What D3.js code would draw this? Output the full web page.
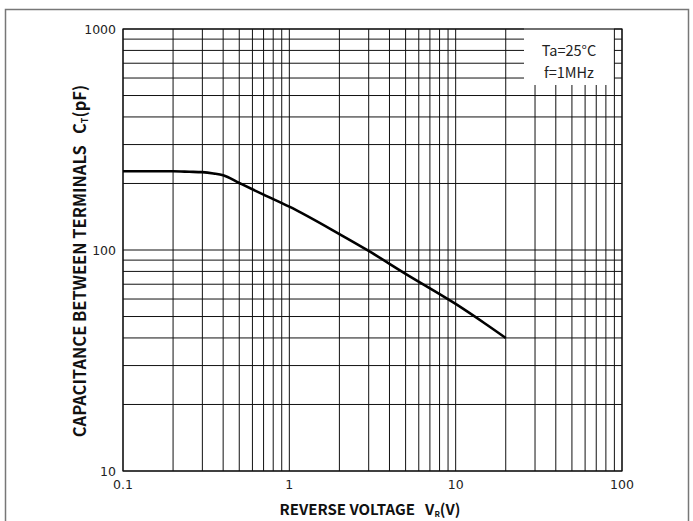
<!DOCTYPE html>
<html><head><meta charset="utf-8">
<script src="https://cdn.jsdelivr.net/npm/d3@7"></script>
<style>body{margin:0;background:#fff}svg{display:block}</style>
</head><body>
<script>
const voltage = [0.1, 0.15, 0.2, 0.25, 0.3, 0.35, 0.4, 0.5, 0.7, 1, 2, 3, 5, 10, 15, 20];
const capacitance = [227, 227, 227, 226, 225, 222, 218, 201, 178, 157, 118, 99, 78, 57, 46.5, 40];
const xTickLabels = [0.1, 1, 10, 100];
const yTickLabels = [10, 100, 1000];
const legendLines = ["Ta=25°C", "f=1MHz"];

const W = 693, H = 521;
const m = {l:123, t:29, r:622, b:471};
const svg = d3.select("body").append("svg").attr("width", W).attr("height", H);

// outer frame
svg.append("path").attr("d", `M5.5,${H} V9.5 H688.5 V${H}`)
  .attr("fill","none").attr("stroke","#777").attr("stroke-width",1.5);

const x = d3.scaleLog().domain([0.1, 100]).range([m.l, m.r]);
const y = d3.scaleLog().domain([10, 1000]).range([m.b, m.t]);

const xGrid = [], yGrid = [];
[0.1, 1, 10].forEach(d => { for (let k = 1; k <= 9; k++) xGrid.push(d * k); });
xGrid.push(100);
[10, 100].forEach(d => { for (let k = 1; k <= 9; k++) yGrid.push(d * k); });
yGrid.push(1000);

// legend box bounds
const lb = {x0:524, x1:614, y0:m.t, y1:85};

const g = svg.append("g").attr("stroke","#111").attr("stroke-width",1);
xGrid.forEach(v => {
  const px = x(v);
  const inBox = px > lb.x0 && px < lb.x1;
  g.append("line").attr("x1",px).attr("x2",px).attr("y1", inBox ? lb.y1 : m.t).attr("y2", m.b);
});
yGrid.forEach(v => {
  const py = y(v);
  const inBox = py >= lb.y0 && py < lb.y1;
  if (inBox) {
    g.append("line").attr("x1",m.l).attr("x2",lb.x0).attr("y1",py).attr("y2",py);
    g.append("line").attr("x1",lb.x1).attr("x2",m.r).attr("y1",py).attr("y2",py);
  } else {
    g.append("line").attr("x1",m.l).attr("x2",m.r).attr("y1",py).attr("y2",py);
  }
});
// plot frame
svg.append("rect").attr("x",m.l).attr("y",m.t).attr("width",m.r-m.l).attr("height",m.b-m.t)
  .attr("fill","none").attr("stroke","#111").attr("stroke-width",1.2);

// legend text
svg.append("g").selectAll("text").data(legendLines).join("text")
  .attr("x",(lb.x0+lb.x1)/2).attr("y",(d,i)=>56+i*22)
  .attr("text-anchor","middle").attr("font-family","'Noto Sans CJK JP', 'Noto Sans', sans-serif")
  .attr("font-size",14.5).attr("fill","#222").text(d=>d);

// curve
const line = d3.line().x(d=>x(d[0])).y(d=>y(d[1])).curve(d3.curveMonotoneX);
svg.append("path").datum(voltage.map((v,i)=>[v,capacitance[i]]))
  .attr("d", line).attr("fill","none").attr("stroke","#000").attr("stroke-width",2.6)
  .attr("stroke-linejoin","round");

// tick labels
const tf = "'DejaVu Sans', sans-serif";
svg.append("g").selectAll("text").data(xTickLabels).join("text")
  .attr("x", d=>x(d)).attr("y", 489).attr("text-anchor","middle")
  .attr("font-family",tf).attr("font-size",12.5).attr("fill","#222").text(d=>String(d));
svg.append("g").selectAll("text").data(yTickLabels).join("text")
  .attr("x", 116).attr("y", d=>y(d)+5).attr("text-anchor","end")
  .attr("font-family",tf).attr("font-size",12.5).attr("fill","#222").text(d=>String(d));

// axis titles
const af = "'Noto Sans CJK JP', 'Noto Sans', sans-serif";
const xt = svg.append("text").attr("x", 370).attr("y", 515).attr("text-anchor","middle")
  .attr("font-family",af).attr("font-weight","bold").attr("font-size",15).attr("fill","#111");
xt.append("tspan").text("REVERSE VOLTAGE\u00a0\u00a0\u00a0V");
xt.append("tspan").attr("font-size",8).attr("dy",2).text("R");
xt.append("tspan").attr("dy",-2).text("(V)");

const yt = svg.append("text").attr("transform","translate(86,261) rotate(-90)").attr("text-anchor","middle")
  .attr("font-family",af).attr("font-weight","bold").attr("font-size",16.5).attr("fill","#111");
yt.append("tspan").text("CAPACITANCE BETWEEN TERMINALS\u00a0\u00a0\u00a0C");
yt.append("tspan").attr("font-size",9).attr("dy",2).text("T");
yt.append("tspan").attr("dy",-2).text("(pF)");
</script>
</body></html>
